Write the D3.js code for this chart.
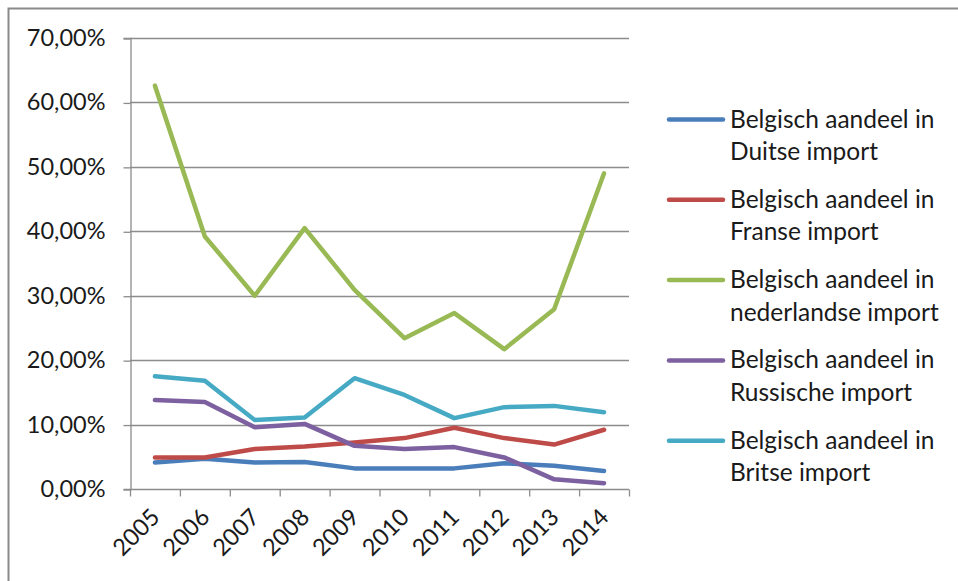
<!DOCTYPE html>
<html>
<head>
<meta charset="utf-8">
<script src="https://cdn.jsdelivr.net/npm/d3@7"></script>
<style>
  html, body { margin: 0; padding: 0; background: #ffffff; }
  svg { display: block; }
  text { font-family: Lato, "Open Sans", sans-serif; fill: #1a1a1a; }
</style>
</head>
<body>
<svg id="chart" width="958" height="581"></svg>
<script>
// Years on the category axis
const years = ["2005", "2006", "2007", "2008", "2009", "2010", "2011", "2012", "2013", "2014"];

// Belgian share of each country's imports, in percent
const duitse = [4.1, 4.7, 4.1, 4.2, 3.2, 3.2, 3.2, 4.0, 3.6, 2.8];
const franse = [4.9, 4.9, 6.2, 6.6, 7.2, 7.9, 9.5, 7.9, 6.9, 9.2];
const nederlandse = [62.6, 39.2, 30.0, 40.5, 30.9, 23.4, 27.3, 21.7, 27.9, 49.0];
const russische = [13.8, 13.5, 9.6, 10.1, 6.7, 6.2, 6.5, 4.9, 1.5, 0.9];
const britse = [17.5, 16.8, 10.7, 11.1, 17.2, 14.6, 11.0, 12.7, 12.9, 11.9];

// Y-axis tick values
const yTicks = [0, 10, 20, 30, 40, 50, 60, 70];

const seriesNames = [
  ["Belgisch aandeel in", "Duitse import"],
  ["Belgisch aandeel in", "Franse import"],
  ["Belgisch aandeel in", "nederlandse import"],
  ["Belgisch aandeel in", "Russische import"],
  ["Belgisch aandeel in", "Britse import"]
];
const seriesValues = [duitse, franse, nederlandse, russische, britse];
const seriesColors = ["#4A7EBB", "#BE4B48", "#98B954", "#7D60A0", "#46AAC5"];

const svg = d3.select("#chart");

// Outer chart frame
svg.append("rect")
  .attr("x", 8.5).attr("y", 8.5)
  .attr("width", 1000).attr("height", 700)
  .attr("fill", "none")
  .attr("stroke", "#8a8a8a")
  .attr("stroke-width", 2);

const plot = { left: 130, right: 629, top: 38, bottom: 489 };

const x = d3.scaleBand().domain(years).range([plot.left, plot.right]);
const y = d3.scaleLinear().domain([0, 70]).range([plot.bottom, plot.top]);

const fmt = v => d3.format(".2f")(v).replace(".", ",") + "%";

// Horizontal gridlines
svg.append("g")
  .selectAll("line")
  .data(yTicks.filter(t => t > 0))
  .join("line")
  .attr("x1", plot.left).attr("x2", plot.right)
  .attr("y1", d => Math.round(y(d)) + 0.5).attr("y2", d => Math.round(y(d)) + 0.5)
  .attr("stroke", "#8c8c8c")
  .attr("stroke-width", 1.3);

// Y axis
const yAxis = svg.append("g")
  .attr("transform", `translate(${plot.left + 0.5},0)`)
  .call(d3.axisLeft(y).tickValues(yTicks).tickFormat(fmt).tickSize(7).tickPadding(18));
yAxis.select(".domain").attr("stroke", "#8c8c8c").attr("stroke-width", 1.3);
yAxis.selectAll(".tick line").attr("stroke", "#8c8c8c").attr("stroke-width", 1.3)
  .attr("transform", "translate(0,0.5)");
yAxis.selectAll(".tick text")
  .attr("font-size", 23.5)
  .attr("fill", "#1a1a1a")
  .style("font-family", "Lato, 'Open Sans', sans-serif");

// X axis with ticks on band boundaries
const xAxis = svg.append("g")
  .attr("transform", `translate(0,${Math.round(plot.bottom) + 0.5})`);
xAxis.append("line")
  .attr("x1", plot.left).attr("x2", plot.right)
  .attr("stroke", "#8c8c8c").attr("stroke-width", 1.3);
const boundaries = years.map(d => x(d)).concat([x(years[years.length - 1]) + x.bandwidth()]);
xAxis.selectAll("line.tk")
  .data(boundaries)
  .join("line")
  .attr("class", "tk")
  .attr("x1", d => d + 0.5).attr("x2", d => d + 0.5)
  .attr("y1", 0).attr("y2", 7)
  .attr("stroke", "#8c8c8c").attr("stroke-width", 1.3);
xAxis.selectAll("text")
  .data(years)
  .join("text")
  .attr("transform", d => `translate(${x(d) + x.bandwidth() / 2 + 2},${25}) rotate(-45)`)
  .attr("text-anchor", "end")
  .attr("dominant-baseline", "middle")
  .attr("font-size", 23.5)
  .text(d => d);

// Series lines
const line = d3.line()
  .x((d, i) => x(years[i]) + x.bandwidth() / 2)
  .y(d => y(d));

svg.append("g")
  .selectAll("path")
  .data(seriesValues)
  .join("path")
  .attr("d", d => line(d))
  .attr("fill", "none")
  .attr("stroke", (d, i) => seriesColors[i])
  .attr("stroke-width", 4.5)
  .attr("stroke-linejoin", "round")
  .attr("stroke-linecap", "round");

// Legend
const legend = svg.append("g");
const entries = legend.selectAll("g")
  .data(seriesNames)
  .join("g")
  .attr("transform", (d, i) => `translate(0,${119.5 + i * 80.3})`);
entries.append("line")
  .attr("x1", 669).attr("x2", 723)
  .attr("y1", 0).attr("y2", 0)
  .attr("stroke", (d, i) => seriesColors[i])
  .attr("stroke-width", 4.5)
  .attr("stroke-linecap", "round");
entries.each(function (d) {
  const t = d3.select(this).append("text")
    .attr("x", 730)
    .attr("font-size", 24.5);
  t.selectAll("tspan")
    .data(d)
    .join("tspan")
    .attr("x", 730)
    .attr("y", (s, j) => 8 + j * 32.5)
    .text(s => s);
});
</script>
</body>
</html>
